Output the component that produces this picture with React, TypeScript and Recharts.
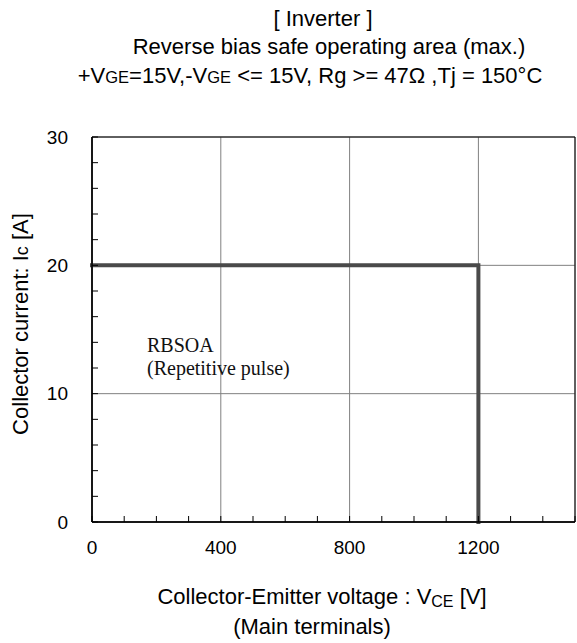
import React from 'react';
import {
  LineChart,
  Line,
  XAxis,
  YAxis,
  CartesianGrid,
  ReferenceArea,
} from 'recharts';

// RBSOA boundary (Collector-Emitter voltage [V] vs Collector current [A])
const voltage = [0, 1200, 1200];
const current = [20, 20, 0];

const xTicks = [0, 400, 800, 1200];
const yTicks = [0, 10, 20, 30];
const xMinorTicks = [0, 100, 200, 300, 400, 500, 600, 700, 800, 900, 1000, 1100, 1200, 1300, 1400, 1500];
const yMinorTicks = [0, 2, 4, 6, 8, 10, 12, 14, 16, 18, 20, 22, 24, 26, 28, 30];

const sans = '"Liberation Sans", Arial, sans-serif';
const serif = '"Liberation Serif", "Times New Roman", serif';

const chartData = voltage.map((v, i) => ({ v, i: current[i] }));

function Centered({ cx, cy, children, size = 22, family = sans }: {
  cx: number; cy: number; children: React.ReactNode; size?: number; family?: string;
}) {
  return (
    <div
      style={{
        position: 'absolute',
        left: cx - 300,
        width: 600,
        top: cy - 13,
        height: 26,
        lineHeight: '26px',
        textAlign: 'center',
        fontFamily: family,
        fontSize: size,
        color: '#000',
        whiteSpace: 'nowrap',
      }}
    >
      {children}
    </div>
  );
}

const tickStyle = { fontSize: 19, fill: '#000', fontFamily: sans };
const blank = () => '';

export default function App() {
  return (
    <div style={{ position: 'absolute', left: 0, top: 0, width: 577, height: 643, background: '#fff' }}>
      <Centered cx={323} cy={19}>[ Inverter ]</Centered>
      <Centered cx={329} cy={47}>Reverse bias safe operating area (max.)</Centered>
      <Centered cx={310} cy={76}>
        +V<span style={{ fontSize: 16.5 }}>GE</span>=15V,-V<span style={{ fontSize: 16.5 }}>GE</span> &lt;= 15V, Rg &gt;= 47Ω ,Tj = 150°C
      </Centered>

      <LineChart width={577} height={643} data={chartData} margin={{ top: 137, right: 2, bottom: 120, left: 91 }}>
        <CartesianGrid stroke="#808080" strokeWidth={1} />
        <ReferenceArea x1={0} x2={1500} y1={0} y2={30} fill="none" stroke="#000" strokeWidth={1} />
        <XAxis
          dataKey="v"
          type="number"
          domain={[0, 1500]}
          ticks={xTicks}
          interval={0}
          height={1}
          tickLine={false}
          tickSize={6}
          tickMargin={13}
          tick={tickStyle}
          axisLine={{ stroke: '#000', strokeWidth: 1.5 }}
        />
        <XAxis
          xAxisId="minor"
          dataKey="v"
          type="number"
          domain={[0, 1500]}
          ticks={xMinorTicks}
          interval={0}
          height={1}
          mirror
          tickSize={6}
          tickLine={{ stroke: '#000' }}
          tickFormatter={blank}
          axisLine={false}
        />
        <YAxis
          dataKey="i"
          type="number"
          domain={[0, 30]}
          ticks={yTicks}
          interval={0}
          width={1}
          tickLine={false}
          tickSize={6}
          tickMargin={18}
          tick={tickStyle}
          axisLine={{ stroke: '#000', strokeWidth: 1.5 }}
        />
        <YAxis
          yAxisId="minor"
          dataKey="i"
          type="number"
          domain={[0, 30]}
          ticks={yMinorTicks}
          interval={0}
          width={1}
          mirror
          tickSize={6}
          tickLine={{ stroke: '#000' }}
          tickFormatter={blank}
          axisLine={false}
        />
        <Line
          type="linear"
          dataKey="i"
          stroke="#4a4a4a"
          strokeWidth={4}
          strokeLinecap="square"
          dot={false}
          isAnimationActive={false}
        />
      </LineChart>

      <div
        style={{
          position: 'absolute',
          left: 147,
          top: 334,
          fontFamily: serif,
          fontSize: 20,
          lineHeight: '23px',
          color: '#111',
        }}
      >
        RBSOA
        <br />
        (Repetitive pulse)
      </div>

      <div
        style={{
          position: 'absolute',
          left: 21 - 150,
          top: 324 - 13,
          width: 300,
          height: 26,
          lineHeight: '26px',
          textAlign: 'center',
          transform: 'rotate(-90deg)',
          fontFamily: sans,
          fontSize: 22,
          whiteSpace: 'nowrap',
        }}
      >
        Collector current: I<span style={{ fontSize: 18 }}>c</span> [A]
      </div>

      <Centered cx={322} cy={597}>
        Collector-Emitter voltage : V<sub style={{ fontSize: 16, verticalAlign: '-3px', lineHeight: 0 }}>CE</sub> [V]
      </Centered>
      <Centered cx={312} cy={627}>(Main terminals)</Centered>
    </div>
  );
}
